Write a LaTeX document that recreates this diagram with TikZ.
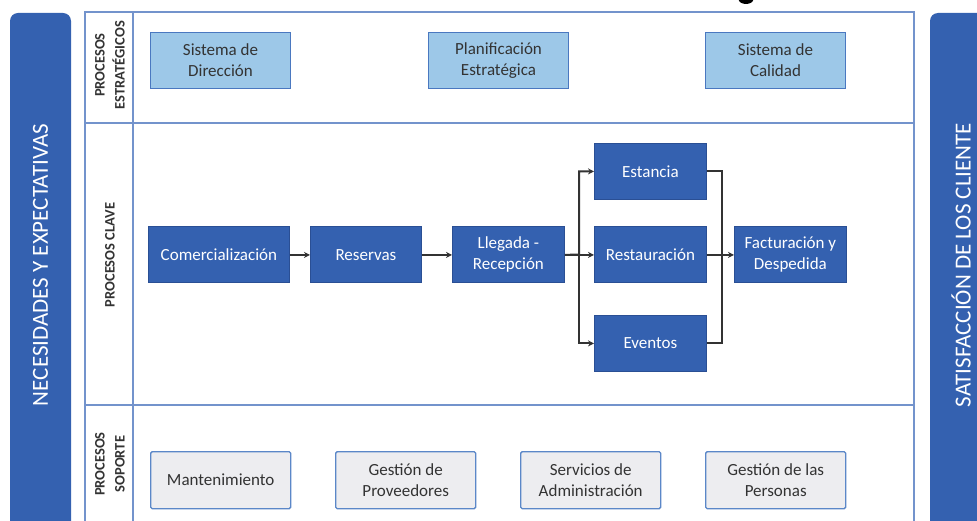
\documentclass[tikz,border=0pt]{standalone}
\usepackage{fontspec}
\setmainfont{Carlito}
\usetikzlibrary{arrows.meta}
\definecolor{dblue}{HTML}{3461B0}
\definecolor{dborder}{HTML}{2A4F94}
\definecolor{lblue}{HTML}{9DC8E8}
\definecolor{lborder}{HTML}{4A78C0}
\definecolor{gfill}{HTML}{EDEDF0}
\definecolor{gborder}{HTML}{5B87C8}
\definecolor{frame}{HTML}{7393CC}
\definecolor{darktxt}{HTML}{333333}
\definecolor{conn}{HTML}{333333}
\tikzset{
  keybox/.style={draw=dborder, line width=0.8pt, fill=dblue, text=white, minimum height=56pt, align=center, font=\fontsize{17}{21}\selectfont, inner sep=0pt, anchor=north west},
  stratbox/.style={draw=lborder, line width=1pt, fill=lblue, text=darktxt, minimum width=140pt, minimum height=56pt, align=center, font=\fontsize{17}{21}\selectfont, inner sep=0pt, anchor=north west},
  suppbox/.style={draw=gborder, line width=1.4pt, fill=gfill, text=darktxt, minimum width=140pt, minimum height=57pt, align=center, font=\fontsize{17}{21}\selectfont, inner sep=0pt, anchor=north west, rounded corners=1.5pt},
  sidebar/.style={fill=dblue, rounded corners=8pt},
  sidetxt/.style={rotate=90, text=white, font=\fontsize{23}{26}\selectfont},
  lbltxt/.style={rotate=90, text=darktxt, font=\bfseries\fontsize{14.5}{20}\selectfont, align=center},
  flow/.style={draw=conn, line width=2pt, -{Stealth[length=6pt,width=6pt]}},
  line/.style={draw=conn, line width=2pt},
  frameline/.style={draw=frame, line width=1.8pt}
}
\begin{document}
\begin{tikzpicture}[x=1pt,y=-1pt]
\useasboundingbox (0,0) rectangle (977,521);
\clip (0,0) rectangle (977,521);
\fill[white] (0,0) rectangle (977,521);
% blob at top
\fill[black] (746,-1) ellipse (7.5 and 5);
% side bars
\fill[sidebar] (10,13) rectangle (71,540);
\fill[sidebar] (930,13) rectangle (1000,540);
\node[sidetxt] (lefttxt) at (40.5,265) {NECESIDADES Y EXPECTATIVAS};
\node[sidetxt] (righttxt) at (961,265) {SATISFACCIÓN DE LOS CLIENTE};
% frame
\draw[frameline] (85,540) -- (85,12) -- (914,12) -- (914,540);
\draw[frameline] (133,12) -- (133,540);
\draw[frameline] (85,123) -- (914,123);
\draw[frameline] (85,405) -- (914,405);
% row labels
\node[lbltxt] (lstrat) at (110,65) {PROCESOS\\ESTRATÉGICOS};
\node[lbltxt] (lclave) at (110,255) {PROCESOS CLAVE};
\node[lbltxt] (lsop) at (110,464) {PROCESOS\\SOPORTE};
% strategic
\node[stratbox] (sd) at (150,32) {Sistema de\\Dirección};
\node[stratbox] (pe) at (428,32) {Planificación\\Estratégica};
\node[stratbox] (sc) at (705,32) {Sistema de\\Calidad};
% key
\node[keybox, minimum width=141pt] (com) at (148,226.5) {Comercialización};
\node[keybox, minimum width=111pt] (res) at (310,226.5) {Reservas};
\node[keybox, minimum width=112pt] (lle) at (452,226.5) {Llegada -\\Recepción};
\node[keybox, minimum width=112pt] (est) at (594,143) {Estancia};
\node[keybox, minimum width=112pt] (rest) at (594,226.5) {Restauración};
\node[keybox, minimum width=112pt] (eve) at (594,315) {Eventos};
\node[keybox, minimum width=112pt] (fac) at (734,226.5) {Facturación y\\Despedida};
% support
\node[suppbox] (man) at (150,451) {Mantenimiento};
\node[suppbox] (gp) at (335,451) {Gestión de\\Proveedores};
\node[suppbox] (sa) at (520,451) {Servicios de\\Administración};
\node[suppbox] (gper) at (705,451) {Gestión de las\\Personas};
% connectors
\coordinate (split) at (579,254.5);
\coordinate (merge) at (722,254.5);
\draw[flow] (com.east) -- (res.west);
\draw[flow] (res.east) -- (lle.west);
\draw[flow] (lle.east) -- (rest.west);
\draw[flow] (lle.east) -- (split) |- (est.west);
\draw[flow] (split) |- (eve.west);
\draw[line] (est.east) -| (merge);
\draw[line] (eve.east) -| (merge);
\draw[flow] (rest.east) -- (fac.west);
\end{tikzpicture}
\end{document}
